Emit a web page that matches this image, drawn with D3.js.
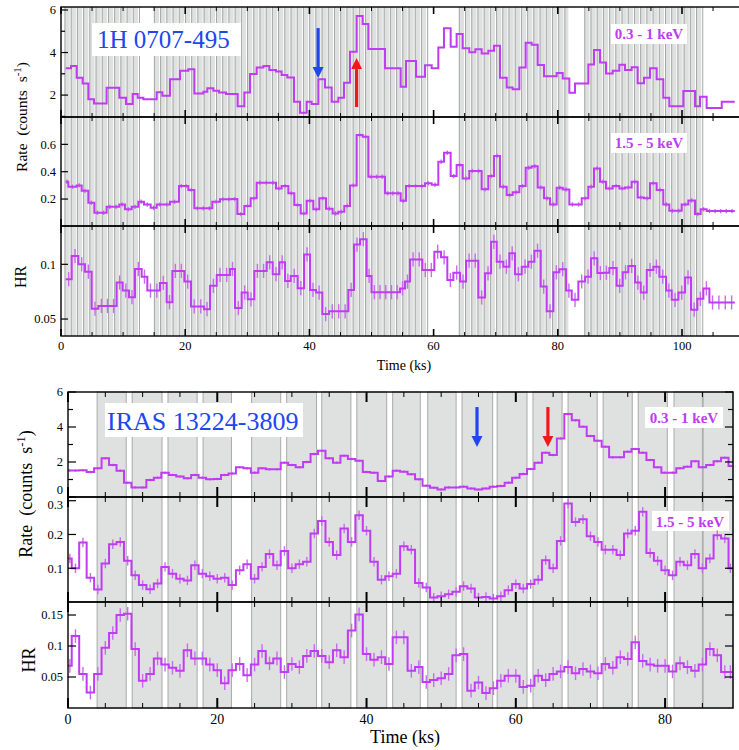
<!DOCTYPE html>
<html>
<head>
<meta charset="utf-8">
<script src="https://cdn.jsdelivr.net/npm/d3@7"></script>
<style>
  body { margin: 0; background: #fff; }
  text { font-family: "Liberation Serif", "DejaVu Serif", serif; }
</style>
</head>
<body>
<svg id="chart" width="739" height="750"></svg>
<script>
// ---- 1H 0707-495 : steps as [start time (ks), value]
const topSoft = [[0.75,3.26],[1.61,3.37],[2.52,2.81],[3.49,2.55],[4.40,1.80],[5.31,1.61],[7.35,2.34],[9.39,1.87],[10.47,1.58],[11.54,2.05],[12.35,1.87],[13.26,1.80],[15.41,2.13],[16.32,1.97],[17.55,2.75],[19.16,3.14],[20.50,3.21],[21.47,2.08],[22.92,2.16],[23.56,2.32],[24.53,2.20],[25.44,2.12],[26.57,2.05],[28.45,1.48],[29.52,2.12],[30.43,2.99],[31.51,3.30],[32.58,3.37],[33.55,3.18],[34.62,3.11],[35.53,2.94],[36.45,2.83],[37.52,1.69],[38.49,1.17],[39.56,1.69],[40.36,1.58],[41.44,2.75],[42.51,2.36],[43.59,1.69],[44.66,1.87],[45.57,2.58],[46.54,4.04],[47.61,5.72],[48.58,5.34],[49.49,4.17],[52.17,3.26],[54.70,2.39],[55.56,3.60],[57.17,2.86],[58.62,3.40],[59.69,3.26],[60.76,4.24],[61.67,5.14],[62.75,4.27],[63.71,4.87],[64.68,4.20],[65.75,4.01],[66.72,4.15],[67.74,3.96],[68.81,4.08],[69.73,4.32],[70.69,2.81],[71.77,2.36],[72.73,2.27],[73.81,3.30],[74.83,4.46],[75.79,4.36],[76.76,3.41],[77.78,2.89],[79.82,3.04],[80.79,2.78],[81.86,2.11],[82.77,2.55],[84.92,3.44],[85.83,4.12],[86.80,3.53],[87.76,3.01],[88.84,3.14],[89.91,3.43],[90.82,3.18],[91.89,3.31],[92.86,2.56],[93.88,2.81],[94.85,3.26],[95.92,2.75],[96.99,1.87],[97.96,1.48],[100.21,2.19],[102.09,1.48],[102.9,1.92],[103.97,1.39],[106.4,1.69]];
const topHard = [[0.75,0.327],[1.18,0.29],[2.52,0.30],[3.33,0.26],[4.40,0.173],[5.37,0.10],[7.35,0.143],[9.39,0.161],[10.30,0.125],[11.38,0.143],[12.45,0.18],[13.36,0.16],[14.44,0.136],[15.41,0.16],[17.55,0.18],[19.0,0.295],[20.50,0.266],[21.47,0.132],[24.36,0.18],[25.6,0.198],[27.48,0.2],[28.4,0.09],[29.52,0.15],[30.54,0.205],[31.51,0.319],[34.62,0.278],[35.53,0.295],[36.61,0.242],[37.57,0.156],[38.6,0.095],[39.56,0.187],[40.63,0.125],[41.6,0.205],[42.67,0.13],[43.74,0.095],[44.66,0.107],[45.62,0.149],[46.54,0.30],[47.61,0.668],[48.58,0.656],[49.49,0.363],[52.17,0.242],[54.70,0.187],[55.56,0.295],[58.62,0.315],[59.69,0.305],[60.76,0.473],[61.67,0.539],[62.75,0.368],[63.71,0.449],[64.68,0.35],[65.75,0.405],[67.74,0.271],[68.81,0.368],[69.73,0.515],[70.69,0.29],[71.77,0.229],[72.73,0.25],[73.81,0.295],[74.83,0.429],[75.79,0.44],[76.76,0.285],[77.78,0.205],[78.75,0.161],[79.82,0.283],[80.79,0.27],[81.86,0.161],[83.85,0.205],[84.92,0.29],[85.83,0.424],[86.80,0.327],[87.76,0.278],[88.84,0.295],[89.91,0.278],[90.82,0.285],[91.89,0.327],[92.86,0.212],[93.88,0.205],[94.85,0.315],[95.92,0.266],[96.99,0.161],[97.96,0.114],[99.95,0.161],[101.02,0.19],[102.09,0.09],[103.0,0.125],[103.97,0.112]];
const topHR = [[0.75,0.0864],[1.72,0.1076],[2.79,0.1],[3.87,0.0933],[4.94,0.0594],[6.01,0.062],[8.96,0.0833],[9.93,0.076],[10.95,0.07],[11.91,0.0957],[12.99,0.0887],[13.9,0.076],[15.94,0.083],[17.01,0.0654],[17.93,0.094],[19.86,0.0842],[20.93,0.0615],[23.03,0.059],[24.0,0.0803],[25.07,0.0903],[27.22,0.0957],[28.02,0.06],[29.09,0.0742],[30.06,0.068],[31.13,0.094],[33.12,0.1018],[34.09,0.091],[35.16,0.1018],[36.07,0.0848],[36.99,0.0894],[38.11,0.0782],[39.13,0.109],[40.1,0.0766],[41.06,0.0742],[42.08,0.0545],[43.16,0.057],[46.27,0.0766],[47.18,0.118],[48.15,0.123],[49.22,0.0894],[50.0,0.0745],[54.59,0.078],[55.39,0.0842],[56.2,0.1045],[58.18,0.0948],[60.12,0.1115],[61.19,0.1064],[62.21,0.0857],[63.18,0.0924],[64.25,0.0842],[65.22,0.1033],[67.2,0.0697],[68.28,0.0918],[69.25,0.1206],[70.16,0.1024],[71.23,0.0978],[72.2,0.11],[73.11,0.0909],[74.19,0.0978],[75.26,0.1024],[76.23,0.1124],[77.25,0.0797],[78.21,0.057],[79.29,0.0927],[80.25,0.0955],[81.33,0.076],[82.24,0.0676],[83.31,0.0843],[84.39,0.0887],[85.35,0.1055],[86.37,0.092],[87.34,0.0924],[88.3,0.0966],[89.48,0.0803],[90.45,0.0927],[91.36,0.0985],[92.44,0.0833],[93.35,0.0742],[94.32,0.0948],[95.39,0.0978],[96.36,0.0887],[97.43,0.076],[98.34,0.0676],[99.42,0.0742],[100.49,0.088],[101.45,0.0585],[102.47,0.0685],[103.44,0.078],[104.41,0.0651]];
const topEnd = 108.5;
const topGTI = [[0.4, 12.7], [14.8, 59.0], [63.9, 81.7], [84.1, 103.2]];

// ---- IRAS 13224-3809 : 1 ks bins centred on 0, 1, 2 ... 89 ks
const botSoft = [1.51,1.51,1.53,1.43,1.64,2.21,1.83,1.50,0.82,0.55,0.55,0.97,1.10,1.39,1.26,1.17,1.07,1.26,1.10,1.01,1.03,1.26,1.34,1.70,1.64,1.39,1.64,1.58,1.58,1.96,1.83,1.70,2.00,2.46,2.65,2.21,1.96,2.36,2.17,2.07,1.43,1.39,0.91,1.17,1.50,1.45,1.30,1.01,0.65,0.53,0.43,0.55,0.55,0.59,0.49,0.43,0.49,0.59,0.63,0.82,1.10,1.31,1.60,1.96,2.53,2.40,3.35,4.74,4.38,4.02,3.49,3.22,2.87,2.27,2.27,2.59,2.74,2.53,2.11,1.70,1.39,1.39,1.64,1.73,2.05,1.70,1.83,2.05,2.24,1.77];
const botHard = [0.129,0.10,0.176,0.072,0.037,0.114,0.171,0.178,0.122,0.079,0.05,0.038,0.055,0.104,0.084,0.069,0.064,0.109,0.084,0.076,0.069,0.072,0.05,0.094,0.112,0.069,0.104,0.142,0.109,0.151,0.10,0.112,0.119,0.203,0.24,0.178,0.139,0.218,0.178,0.257,0.211,0.119,0.066,0.076,0.084,0.165,0.155,0.056,0.043,0.013,0.017,0.023,0.03,0.047,0.04,0.013,0.015,0.01,0.017,0.035,0.053,0.04,0.053,0.066,0.124,0.1,0.181,0.292,0.237,0.245,0.195,0.178,0.155,0.155,0.139,0.203,0.211,0.267,0.145,0.122,0.094,0.079,0.119,0.109,0.142,0.1,0.129,0.198,0.188,0.1];
const botHR = [0.068,0.116,0.055,0.025,0.055,0.097,0.121,0.15,0.152,0.095,0.044,0.055,0.08,0.07,0.065,0.06,0.093,0.08,0.08,0.07,0.061,0.04,0.061,0.071,0.053,0.07,0.092,0.072,0.08,0.058,0.071,0.066,0.084,0.092,0.084,0.074,0.093,0.082,0.125,0.151,0.087,0.078,0.082,0.071,0.114,0.114,0.06,0.066,0.042,0.045,0.048,0.055,0.085,0.087,0.028,0.041,0.024,0.032,0.044,0.052,0.052,0.034,0.036,0.052,0.045,0.055,0.059,0.066,0.056,0.063,0.059,0.056,0.071,0.065,0.082,0.079,0.106,0.076,0.07,0.068,0.068,0.059,0.072,0.066,0.06,0.07,0.095,0.085,0.058,0.058];
const botEnd = 89;
const botGTI = [[3.9,7.8],[8.6,12.6],[13.4,17.3],[18.1,21.9],[24.6,28.5],[29.3,33.3],[34.0,37.9],[38.7,42.7],[43.5,47.2],[48.2,52.0],[52.8,56.9],[57.5,61.5],[62.3,66.2],[67.0,70.9],[71.7,75.6],[76.4,80.3],[81.2,85.0],[85.1,89.1]];

const topXTicks = [0, 20, 40, 60, 80, 100];
const botXTicks = [0, 20, 40, 60, 80];

const purple = "#c03cf2";
const purpleErr = "#c86af2";
const blue = "#2046ee";
const red = "#f01818";

const svg = d3.select("#chart");

const xTop = d3.scaleLinear().domain([0, 110.95]).range([61, 750]);
const xBot = d3.scaleLinear().domain([0, 89.1]).range([68, 733]);

const topPanels = [
  { data: topSoft, y: d3.scaleLinear().domain([0.97, 6.14]).range([117, 7]), ticks: [2, 4, 6], minor: [1, 3, 5], err: 0.03 },
  { data: topHard, y: d3.scaleLinear().domain([0.003, 0.8]).range([226, 117]), ticks: [0.2, 0.4, 0.6], minor: [], err: 0.016 },
  { data: topHR, y: d3.scaleLinear().domain([0.0345, 0.135]).range([336, 226]), ticks: [0.05, 0.1], minor: [], err: 0.0065 },
];
const botPanels = [
  { data: botSoft, y: d3.scaleLinear().domain([0, 6]).range([497, 392]), ticks: [0, 2, 4, 6], minor: [1, 3, 5], err: 0.07 },
  { data: botHard, y: d3.scaleLinear().domain([0, 0.311]).range([602, 497]), ticks: [0.1, 0.2, 0.3], minor: [], err: 0.014 },
  { data: botHR, y: d3.scaleLinear().domain([0, 0.171]).range([708, 602]), ticks: [0.05, 0.1, 0.15], minor: [], err: 0.011 },
];

// gray time windows
const bgTop = svg.append("g");
topGTI.forEach(([a, b]) => {
  d3.range(a, b, 1).forEach((t) => {
    const t1 = Math.min(t + 1, b);
    bgTop.append("rect")
      .attr("x", xTop(t) + 1)
      .attr("y", 7)
      .attr("width", Math.max(0, xTop(t1) - xTop(t) - 1))
      .attr("height", 329)
      .attr("fill", "#dfe1e0");
    bgTop.append("line")
      .attr("x1", xTop(t) + 1.5).attr("x2", xTop(t) + 1.5)
      .attr("y1", 7).attr("y2", 336)
      .attr("stroke", "#a6a6a6").attr("stroke-width", 1);
  });
});

const bgBot = svg.append("g");
botGTI.forEach(([a, b]) => {
  bgBot.append("rect")
    .attr("x", xBot(a))
    .attr("y", 392)
    .attr("width", xBot(b) - xBot(a))
    .attr("height", 316)
    .attr("fill", "#dfe1e0")
    .attr("stroke", "#a9a9a9")
    .attr("stroke-width", 1);
});

// white label boxes
function labelBox(x, y, w, h) {
  svg.append("rect").attr("x", x).attr("y", y).attr("width", w).attr("height", h).attr("fill", "#fff");
}
labelBox(92, 23, 149, 33);
labelBox(611, 24, 76, 20);
labelBox(611, 133, 76, 20);
labelBox(105, 403, 198, 34);
labelBox(645, 407, 78, 21);
labelBox(652, 511, 77, 20);

const stepLine = d3.line().curve(d3.curveStepAfter);

// top light curves
topPanels.forEach((p) => {
  const pts = p.data.map((d) => [xTop(d[0]), p.y(d[1])]);
  pts.push([xTop(topEnd), p.y(p.data[p.data.length - 1][1])]);
  const g = svg.append("g");
  p.data.forEach((d, i) => {
    const t0 = d[0];
    const t1 = i + 1 < p.data.length ? p.data[i + 1][0] : topEnd;
    const n = Math.max(1, Math.round(t1 - t0));
    d3.range(n).forEach((j) => {
      const tc = t0 + ((j + 0.5) * (t1 - t0)) / n;
      g.append("line")
        .attr("x1", xTop(tc)).attr("x2", xTop(tc))
        .attr("y1", p.y(d[1] - p.err)).attr("y2", p.y(d[1] + p.err))
        .attr("stroke", purpleErr).attr("stroke-width", 1.4);
    });
  });
  g.append("path")
    .attr("d", stepLine(pts))
    .attr("fill", "none")
    .attr("stroke", purple)
    .attr("stroke-width", 2);
});

// bottom light curves
botPanels.forEach((p) => {
  const pts = p.data.map((v, k) => [xBot(Math.max(0, k - 0.5)), p.y(v)]);
  pts.push([xBot(botEnd), p.y(p.data[p.data.length - 1])]);
  const g = svg.append("g");
  p.data.forEach((v, k) => {
    const tc = (Math.max(0, k - 0.5) + Math.min(botEnd, k + 0.5)) / 2;
    g.append("line")
      .attr("x1", xBot(tc)).attr("x2", xBot(tc))
      .attr("y1", p.y(v - p.err)).attr("y2", p.y(v + p.err))
      .attr("stroke", purpleErr).attr("stroke-width", 1.4);
  });
  g.append("path")
    .attr("d", stepLine(pts))
    .attr("fill", "none")
    .attr("stroke", purple)
    .attr("stroke-width", 2);
});

// frames and ticks
function frame(x, panels, left, right, opt) {
  const g = svg.append("g");
  panels.forEach((p, i) => {
    const y0 = p.y.range()[1];
    const y1 = p.y.range()[0];
    // x ticks on top and bottom of each panel
    d3.range(0, x.domain()[1], 5).forEach((t) => {
      const major = t % 20 === 0;
      const len = major ? opt.xMajor : opt.xMinor;
      [[y0, 1], [y1, -1]].forEach(([yy, s]) => {
        g.append("line")
          .attr("x1", x(t)).attr("x2", x(t))
          .attr("y1", yy).attr("y2", yy + s * len)
          .attr("stroke", "#000")
          .attr("stroke-width", major ? opt.majorW : 1);
      });
    });
    // y ticks
    p.ticks.concat(p.minor).forEach((v) => {
      const len = p.minor.includes(v) ? opt.yMinor : opt.yMajor;
      g.append("line")
        .attr("x1", left).attr("x2", left + len)
        .attr("y1", p.y(v)).attr("y2", p.y(v))
        .attr("stroke", "#000").attr("stroke-width", 1.2);
      if (opt.rightTicks) {
        g.append("line")
          .attr("x1", right).attr("x2", right - len)
          .attr("y1", p.y(v)).attr("y2", p.y(v))
          .attr("stroke", "#000").attr("stroke-width", 1.2);
      }
    });
    // labels at a shared panel edge are nudged inside their own panel
    p.ticks.forEach((v) => {
      let ly = p.y(v);
      if (i > 0) ly = Math.max(ly, y0 + opt.edge);
      if (i < panels.length - 1) ly = Math.min(ly, y1 - opt.edge);
      g.append("text")
        .attr("x", left - opt.yPad)
        .attr("y", ly)
        .attr("dy", "0.35em")
        .attr("text-anchor", "end")
        .attr("font-size", opt.tickFont)
        .text(String(v));
    });
    g.append("rect")
      .attr("x", left).attr("y", y0)
      .attr("width", right - left).attr("height", y1 - y0)
      .attr("fill", "none").attr("stroke", "#000").attr("stroke-width", 1.4);
  });
}

frame(xTop, topPanels, 61, 760, { xMajor: 7, xMinor: 4, majorW: 1.6, yMajor: 7, yMinor: 4, yPad: 5, tickFont: 12.5, rightTicks: false, edge: 5 });
frame(xBot, botPanels, 68, 733, { xMajor: 10, xMinor: 5, majorW: 2, yMajor: 8, yMinor: 5, yPad: 5, tickFont: 12.5, rightTicks: true, edge: 7.8 });

// x tick labels
topXTicks.forEach((t) => {
  svg.append("text").attr("x", xTop(t)).attr("y", 350).attr("text-anchor", "middle").attr("font-size", 12.5).text(t);
});
botXTicks.forEach((t) => {
  svg.append("text").attr("x", xBot(t)).attr("y", 724).attr("text-anchor", "middle").attr("font-size", 14).text(t);
});

svg.append("text").attr("x", 404).attr("y", 370).attr("text-anchor", "middle").attr("font-size", 14).text("Time (ks)");
svg.append("text").attr("x", 405).attr("y", 743).attr("text-anchor", "middle").attr("font-size", 18).text("Time (ks)");

// y labels
function rateLabel(x, y, size) {
  const t = svg.append("text")
    .attr("transform", "translate(" + x + "," + y + ") rotate(-90)")
    .attr("text-anchor", "middle")
    .attr("font-size", size)
    .attr("xml:space", "preserve");
  t.append("tspan").text("Rate  (counts  s");
  t.append("tspan").attr("baseline-shift", "super").attr("font-size", "70%").text("-1");
  t.append("tspan").text(")");
}
rateLabel(27, 117, 15.5);
rateLabel(32, 494, 18);
svg.append("text").attr("transform", "translate(26,277) rotate(-90)").attr("text-anchor", "middle").attr("font-size", 16).text("HR");
svg.append("text").attr("transform", "translate(35,660) rotate(-90)").attr("text-anchor", "middle").attr("font-size", 18).text("HR");

// source names and band labels
svg.append("text").attr("x", 97).attr("y", 48).attr("font-size", 25).attr("fill", blue).text("1H 0707-495");
svg.append("text").attr("x", 107).attr("y", 430).attr("font-size", 26).attr("fill", blue).text("IRAS 13224-3809");
[[649, 39, "0.3 - 1 keV"], [649, 148, "1.5 - 5 keV"], [684, 423, "0.3 - 1 keV"], [690, 527, "1.5 - 5 keV"]].forEach(([x, y, s]) => {
  svg.append("text").attr("x", x).attr("y", y).attr("text-anchor", "middle")
    .attr("font-size", 15).attr("font-weight", "bold").attr("fill", purple).text(s);
});

// arrows
const topArrows = [
  { t: 41.4, from: 5.15, to: 2.8, color: blue },
  { t: 47.6, from: 1.44, to: 3.74, color: red },
];
const botArrows = [
  { t: 54.8, from: 5.14, to: 2.86, color: blue },
  { t: 64.3, from: 5.14, to: 2.86, color: red },
];
function arrow(x, y1, y2, color) {
  const dir = y2 > y1 ? 1 : -1;
  const head = 11;
  svg.append("line")
    .attr("x1", x).attr("x2", x)
    .attr("y1", y1).attr("y2", y2 - dir * head)
    .attr("stroke", color).attr("stroke-width", 3.2);
  svg.append("path")
    .attr("d", "M" + (x - 5.5) + "," + (y2 - dir * head) + "L" + (x + 5.5) + "," + (y2 - dir * head) + "L" + x + "," + y2 + "Z")
    .attr("fill", color);
}
topArrows.forEach((a) => arrow(xTop(a.t), topPanels[0].y(a.from), topPanels[0].y(a.to), a.color));
botArrows.forEach((a) => arrow(xBot(a.t), botPanels[0].y(a.from), botPanels[0].y(a.to), a.color));
</script>
</body>
</html>
